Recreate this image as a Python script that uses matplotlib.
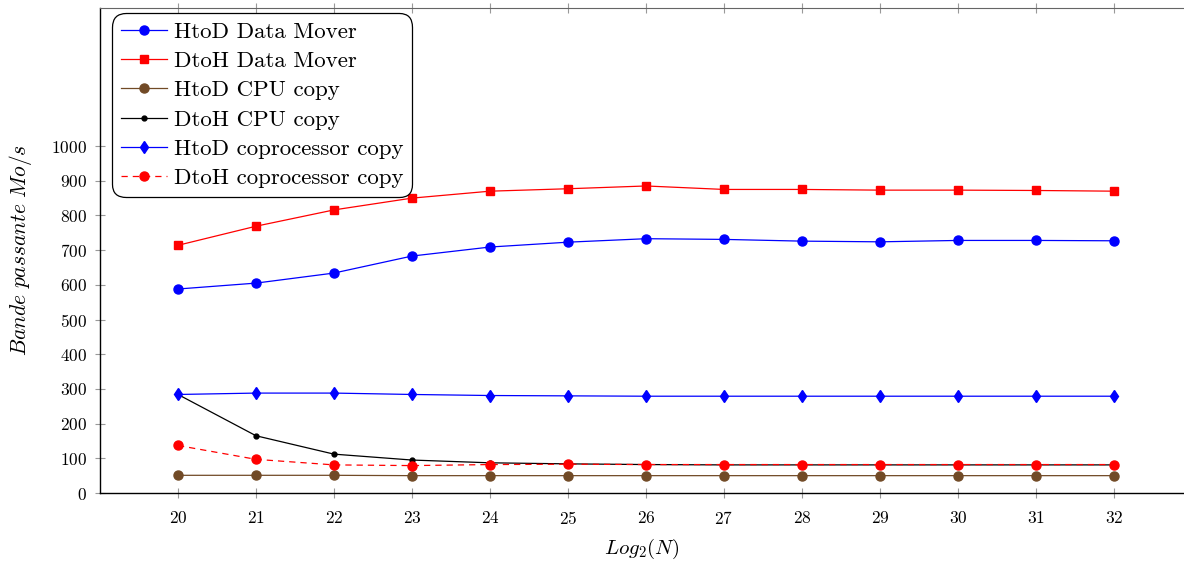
import numpy as np
import matplotlib
matplotlib.use("Agg")
import matplotlib.pyplot as plt

plt.rcParams["font.family"] = ["cmr10", "DejaVu Serif"]
plt.rcParams["mathtext.fontset"] = "cm"
plt.rcParams["axes.formatter.use_mathtext"] = True

# ---- data ----
log2n = [20, 21, 22, 23, 24, 25, 26, 27, 28, 29, 30, 31, 32]
htod_mover = [588, 605, 634, 683, 709, 723, 733, 731, 726, 724, 728, 728, 727]
dtoh_mover = [714, 769, 816, 850, 870, 877, 885, 875, 875, 873, 873, 872, 870]
htod_cpu = [51, 51, 51, 50, 50, 50, 50, 50, 50, 50, 50, 50, 50]
dtoh_cpu = [284, 165, 112, 95, 87, 84, 82, 81, 81, 81, 81, 81, 81]
htod_copro = [284, 288, 288, 284, 281, 280, 279, 279, 279, 279, 279, 279, 279]
dtoh_copro = [137, 97, 81, 79, 82, 83, 82, 82, 82, 82, 82, 82, 82]

BROWN = "#714a26"

fig = plt.figure(figsize=(11.84, 5.61), dpi=100)
ax = fig.add_axes([100 / 1184, 68 / 561, 1084 / 1184, 485 / 561])

lw = 0.9
ax.plot(log2n, htod_mover, color="blue", marker="o", ms=6.5, lw=lw, label="HtoD Data Mover")
ax.plot(log2n, dtoh_mover, color="red", marker="s", ms=6.3, lw=lw, label="DtoH Data Mover")
ax.plot(log2n, htod_cpu, color=BROWN, marker="o", ms=6.5, lw=lw, label="HtoD CPU copy")
ax.plot(log2n, dtoh_cpu, color="black", marker="o", ms=3.5, lw=lw, label="DtoH CPU copy")
ax.plot(log2n, htod_copro, color="blue", marker="d", ms=6.5, lw=lw, label="HtoD coprocessor copy")
ax.plot(log2n, dtoh_copro, color="red", marker="o", ms=6.5, lw=lw, ls=(0, (5, 4)),
        label="DtoH coprocessor copy")

ax.set_xlim(19, 32 + 70 / 78)
ax.set_ylim(0, 1398)
ax.set_xticks(log2n)
ax.set_yticks(range(0, 1001, 100))
ax.tick_params(axis="both", direction="inout", length=7, width=0.8, color="#999999",
               labelsize=12.5)
ax.tick_params(axis="x", top=True, pad=9)
ax.tick_params(axis="y", pad=6)
ax.spines["right"].set_visible(False)
for s in ["left", "bottom"]:
    ax.spines[s].set_linewidth(1.0)
ax.spines["top"].set_color("#666666")

ax.set_xlabel(r"$Log_2(N)$", fontsize=15, labelpad=7)
ax.set_ylabel(r"$Bande\ passante\ Mo/s$", fontsize=15.5, labelpad=12)

leg = ax.legend(loc="upper left", bbox_to_anchor=(0.011, 0.99), borderaxespad=0,
                fontsize=16.5, labelspacing=0.4, handlelength=2.0, handletextpad=0.3,
                borderpad=0.4, fancybox=True, framealpha=1, edgecolor="black")
leg.get_frame().set_linewidth(0.9)
leg.get_frame().set_boxstyle("round", pad=0, rounding_size=0.6)

fig.savefig("out.png", dpi=100)
